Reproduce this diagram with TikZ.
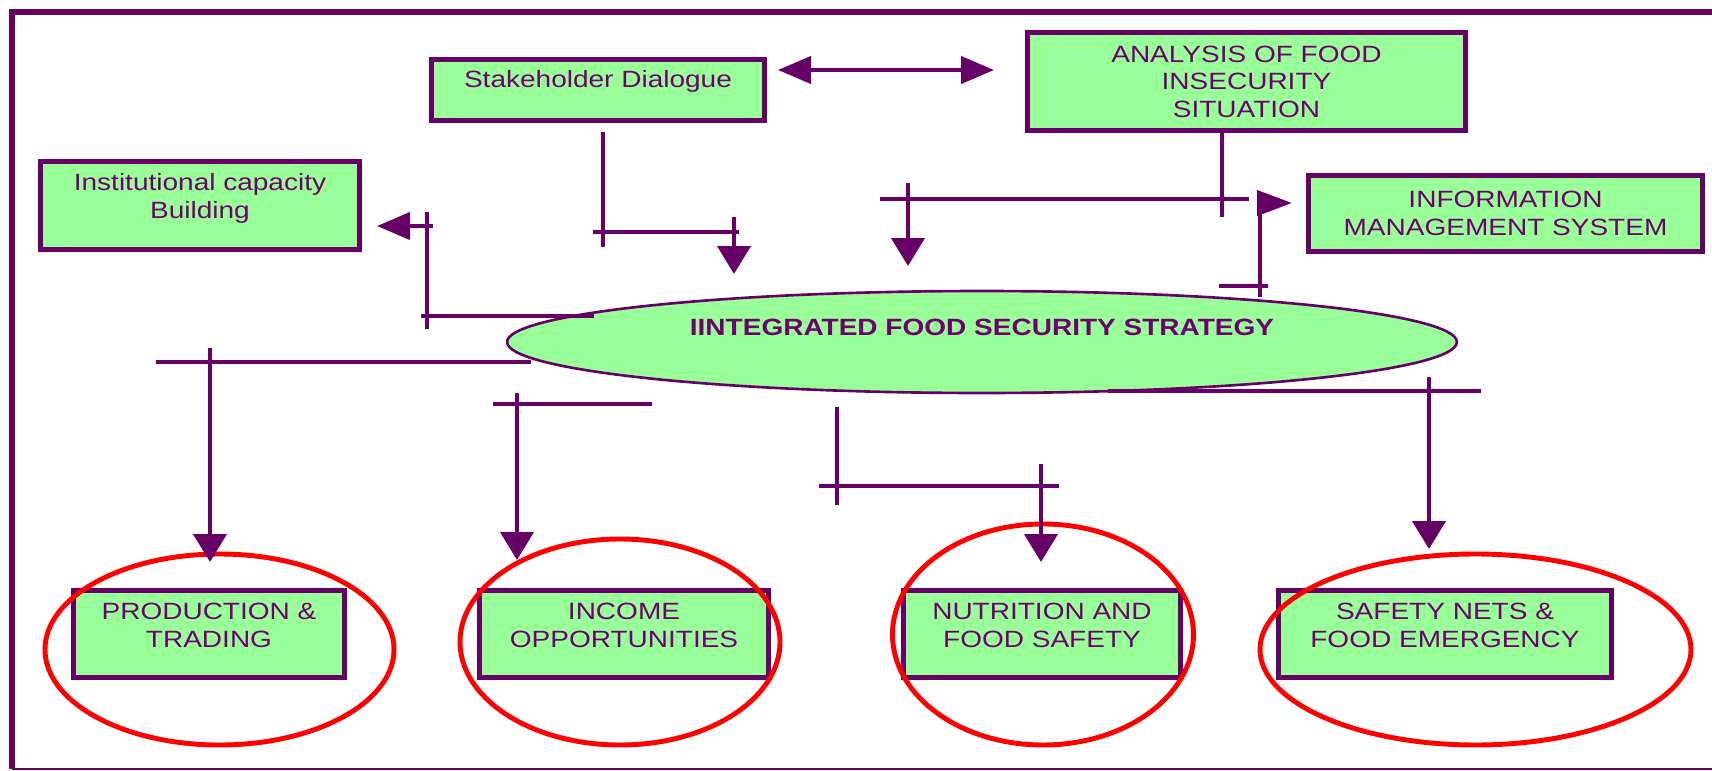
\documentclass[tikz,border=0pt]{standalone}
\usepackage{fontspec}
\setmainfont[FakeStretch=1.19]{Liberation Sans}
\usetikzlibrary{shapes.geometric, arrows.meta}
\definecolor{plum}{HTML}{660066}
\definecolor{plumtext}{HTML}{700070}
\definecolor{mint}{HTML}{99FF99}
\definecolor{ring}{HTML}{FF0000}
\tikzset{vtip/.tip={Triangle[length=0.56cm, width=0.66cm]},
         htip/.tip={Triangle[length=0.66cm, width=0.54cm]}}

\begin{document}
\begin{tikzpicture}[x=0.02cm, y=-0.02cm]
  \tikzstyle{blk}=[rectangle, draw=plum, line width=2.85pt, fill=mint, inner sep=0pt,
                   align=center, text=plumtext, font=\fontsize{13.4}{15.6}\selectfont]
  \tikzstyle{lift}=[text depth=#1]
  \tikzstyle{arr}=[draw=plum, line width=2.4pt]
  \tikzstyle{hilite}=[draw=ring, line width=2.8pt]
  \useasboundingbox (0,0) rectangle (1712,771);
  % frame
  \draw[plum, line width=3.4pt] (1712,12) -- (12,12) -- (12,769);
  \draw[plum, line width=1.2pt] (12,769) -- (1712,769);
  % top row
  \node[blk, lift=12pt, minimum width=6.66cm, minimum height=1.22cm](sd) at (598,90) {Stakeholder Dialogue};
  \node[blk, minimum width=8.76cm, minimum height=1.96cm](afi) at (1246.5,81.5) {ANALYSIS OF FOOD\\INSECURITY\\SITUATION};
  \node[blk, lift=11pt, minimum width=6.38cm, minimum height=1.76cm](icb) at (200,205.5) {Institutional capacity\\Building};
  \node[blk, minimum width=7.88cm, minimum height=1.52cm](ims) at (1505.5,213.5) {INFORMATION\\MANAGEMENT SYSTEM};
  % strategy
  \node[ellipse, draw=plum, line width=1.5pt, fill=mint, inner sep=0pt, lift=17pt,
        minimum width=19cm, minimum height=2.04cm, text=plumtext,
        font=\fontsize{13.4}{15.6}\selectfont\bfseries](ifs) at (982,342) {IINTEGRATED FOOD SECURITY STRATEGY};
  % bottom row
  \node[blk, lift=10pt, minimum width=5.42cm, minimum height=1.74cm](pt) at (209,634) {PRODUCTION \&\\TRADING};
  \node[blk, lift=10pt, minimum width=5.78cm, minimum height=1.74cm](io) at (624,634) {INCOME\\OPPORTUNITIES};
  \node[blk, lift=10pt, minimum width=5.54cm, minimum height=1.74cm](nfs) at (1042,634) {NUTRITION AND\\FOOD SAFETY};
  \node[blk, lift=10pt, minimum width=6.66cm, minimum height=1.74cm](sn) at (1445,634) {SAFETY NETS \&\\FOOD EMERGENCY};
  % red rings
  \draw[hilite] (219.5,649.5) ellipse [x radius=174.5, y radius=95.5];
  \draw[hilite] (620,642) ellipse [x radius=160, y radius=103];
  \draw[hilite] (1043,634.5) ellipse [x radius=150.5, y radius=110.5];
  \draw[hilite] (1475.5,649.5) ellipse [x radius=215.5, y radius=95.5];
  % connector points
  \coordinate (sd-l) at (778,70);
  \coordinate (afi-l) at (994,70);
  \coordinate (sd-a) at (603,132);
  \coordinate (sd-b) at (603,247);
  \coordinate (sd-c) at (593,232);
  \coordinate (sd-d) at (739,232);
  \coordinate (sd-e) at (734,217);
  \coordinate (sd-f) at (734,274);
  \coordinate (icb-a) at (594,316);
  \coordinate (icb-b) at (421,316);
  \coordinate (icb-c) at (427,329);
  \coordinate (icb-d) at (427,212);
  \coordinate (icb-e) at (433,226);
  \coordinate (icb-f) at (377,226);
  \coordinate (afi-a) at (1222,133);
  \coordinate (afi-b) at (1222,217);
  \coordinate (afi-c) at (880,199);
  \coordinate (afi-d) at (1249,199);
  \coordinate (afi-e) at (908,183);
  \coordinate (afi-f) at (908,266);
  \coordinate (ims-a) at (1260,297);
  \coordinate (ims-b) at (1260,193);
  \coordinate (ims-c) at (1258,203);
  \coordinate (ims-d) at (1292,203);
  \coordinate (ims-e) at (1219,286);
  \coordinate (ims-f) at (1268,286);
  \coordinate (pt-a) at (531,362);
  \coordinate (pt-b) at (156,362);
  \coordinate (pt-c) at (210,348);
  \coordinate (pt-d) at (210,562);
  \coordinate (io-a) at (652,404);
  \coordinate (io-b) at (493,404);
  \coordinate (io-c) at (517,393);
  \coordinate (io-d) at (517,560);
  \coordinate (nfs-a) at (837,407);
  \coordinate (nfs-b) at (837,505);
  \coordinate (nfs-c) at (819,486);
  \coordinate (nfs-d) at (1059,486);
  \coordinate (nfs-e) at (1041,464);
  \coordinate (nfs-f) at (1041,562);
  \coordinate (sn-a) at (1108,391);
  \coordinate (sn-b) at (1481,391);
  \coordinate (sn-c) at (1429,377);
  \coordinate (sn-d) at (1429,549);
  % connectors
  \draw[arr, {htip}-{htip}](sd-l)--(afi-l);
  \draw[arr](sd-a)--(sd-b);
  \draw[arr](sd-c)--(sd-d);
  \draw[arr, -{vtip}](sd-e)--(sd-f);
  \draw[arr](icb-a)--(icb-b);
  \draw[arr](icb-c)--(icb-d);
  \draw[arr, -{htip}](icb-e)--(icb-f);
  \draw[arr](afi-a)--(afi-b);
  \draw[arr](afi-c)--(afi-d);
  \draw[arr, -{vtip}](afi-e)--(afi-f);
  \draw[arr](ims-a)--(ims-b);
  \draw[arr, -{Triangle[length=0.7cm, width=0.5cm]}](ims-c)--(ims-d);
  \draw[arr](ims-e)--(ims-f);
  \draw[arr](pt-a)--(pt-b);
  \draw[arr, -{vtip}](pt-c)--(pt-d);
  \draw[arr](io-a)--(io-b);
  \draw[arr, -{vtip}](io-c)--(io-d);
  \draw[arr](nfs-a)--(nfs-b);
  \draw[arr](nfs-c)--(nfs-d);
  \draw[arr, -{vtip}](nfs-e)--(nfs-f);
  \draw[arr](sn-a)--(sn-b);
  \draw[arr, -{vtip}](sn-c)--(sn-d);
\end{tikzpicture}
\end{document}
